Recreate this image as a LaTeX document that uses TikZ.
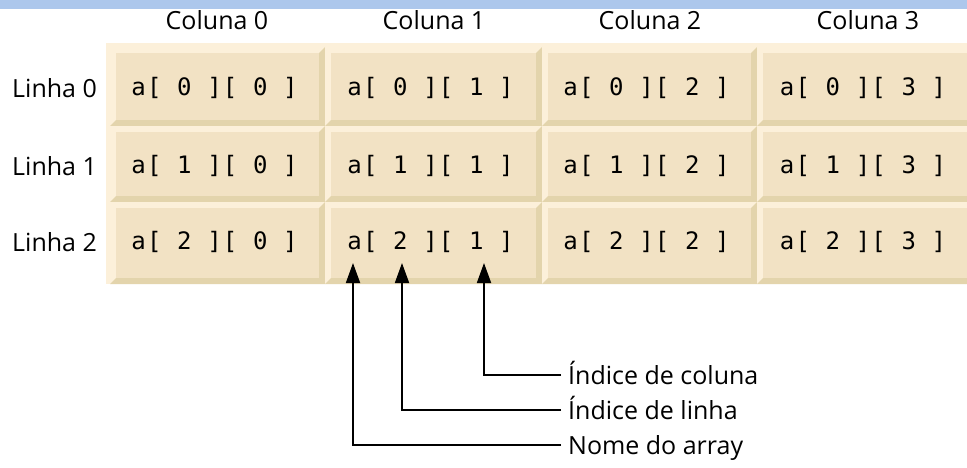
\documentclass[tikz,border=0pt]{standalone}
\usepackage{fontspec}
\setmainfont{Open Sans}
\newfontfamily\cellfont[LetterSpace=5]{DejaVu Sans Mono}
\usetikzlibrary{arrows.meta}
\definecolor{face}{RGB}{242,226,196}
\definecolor{lite}{RGB}{252,240,218}
\definecolor{dark}{RGB}{227,212,172}
\definecolor{sky}{RGB}{172,199,236}
\begin{document}
\begin{tikzpicture}[x=1pt,y=-1pt,
  celltxt/.style={inner sep=0pt, font=\cellfont\fontsize{24}{27}\selectfont},
  hdr/.style={inner sep=0pt, font=\fontsize{25}{28}\selectfont},
  note/.style={inner sep=0pt, anchor=base west, font=\fontsize{25}{28}\selectfont},
  arr/.style={line width=1.8pt, -{Triangle[length=20pt,width=14pt]}}]
\useasboundingbox (0,0) rectangle (967,468);
\clip (0,0) rectangle (967,468);
\fill[white] (0,0) rectangle (967,468);
\fill[sky] (0,0) rectangle (967,9);
% frame
\fill[lite] (106,43) rectangle (967,284);
% cells
\foreach \c/\xa/\xb in {0/110/325,1/325/542,2/542/757,3/757/975}{
  \foreach \r/\ya/\yb/\yt in {0/47/126/88,1/126/202/166,2/202/284/242}{
    \fill[lite] (\xa,\ya) rectangle (\xb,\yb);
    \fill[dark] (\xa,\yb) -- (\xb,\yb) -- (\xb,\ya) -- (\xb-6,\ya+6) -- (\xb-6,\yb-6) -- (\xa+6,\yb-6) -- cycle;
    \fill[face] (\xa+6,\ya+6) rectangle (\xb-6,\yb-6);
    \node[celltxt] (a\r\c) at ({(\xa+\xb)/2-3},\yt) {a[ \r\ ][ \c\ ]};
  }
}
% column headers
\foreach \c/\x in {0/217,1/434,2/650,3/868}{
  \node[hdr] (h\c) at (\x,20) {Coluna \c};
}
% row labels
\foreach \r/\y in {0/88,1/166,2/242}{
  \node[hdr, anchor=west] (l\r) at (12,\y) {Linha \r};
}
% annotation labels
\node[note] (col) at (568,384) {Índice de coluna};
\node[note] (lin) at (568,419) {Índice de linha};
\node[note] (nom) at (568,454) {Nome do array};
\coordinate (tA) at (353,263);
\coordinate (tR) at (402,263);
\coordinate (tC) at (484,263);
\draw[arr] ([xshift=-7pt,yshift=9pt]col.base west) -| (tC);
\draw[arr] ([xshift=-7pt,yshift=9pt]lin.base west) -| (tR);
\draw[arr] ([xshift=-7pt,yshift=9pt]nom.base west) -| (tA);
\end{tikzpicture}
\end{document}
